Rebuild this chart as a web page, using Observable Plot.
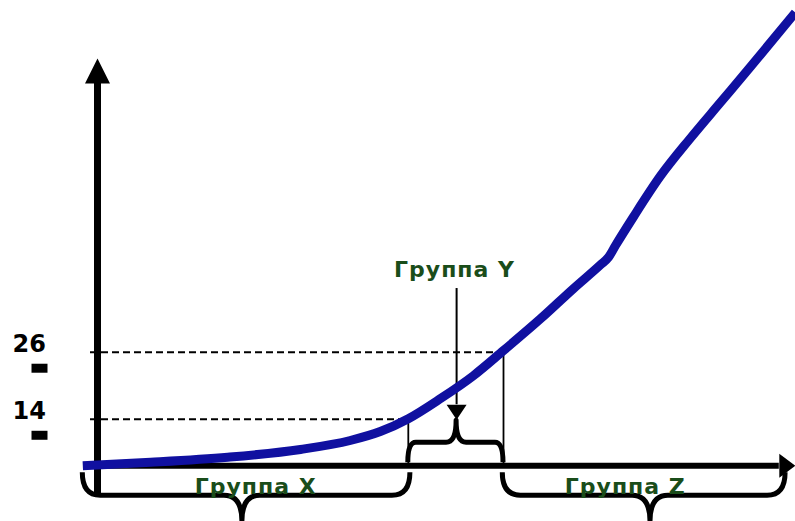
<!DOCTYPE html>
<html><head><meta charset="utf-8">
<script src="https://cdn.jsdelivr.net/npm/d3@7"></script>
<script src="https://cdn.jsdelivr.net/npm/@observablehq/plot@0.6"></script>
<style>html,body{margin:0;padding:0;background:#fff;} #chart svg{display:block}</style>
</head><body><div id="chart"></div>
<script>
// ---- data (abstract units) ----
const curveX = [-2.1, 7.6, 18.6, 29.0, 36.1, 40.4, 44.4, 49.0, 53.7, 58.0, 63.3, 68.0, 71.9, 73.0, 74.0, 76.6, 80.4, 84.7, 89.0, 93.3, 99.7];
const curveY = [5.7, 6.3, 7.2, 8.6, 10.2, 11.8, 14.1, 17.7, 21.8, 26.3, 32.0, 37.4, 41.7, 43.0, 45.1, 50.3, 57.5, 64.3, 70.7, 77.1, 86.8];
const levels = [14, 26];
const levelLabels = ["14", "26"];
const levelEndX = [44.4, 58.0];
const groupNames = ["Группа X", "Группа Y", "Группа Z"];
const groupFrom = [-2.1, 44.4, 57.9];
const groupTo = [44.7, 58.0, 98.3];
const groupMid = [20.7, 51.3, 79.0];
const groupLabelX = [22.6, 51.0, 75.4];
const axisLevel = 5.7;
const yAxisBottom = 0.4, yAxisTop = 74.1, xAxisEnd = 97.4, dashStart = -1.0;
const yLabelLevel = 39.5, yArrowFrom = 37.4, yArrowTo = 16.6;

const BLUE = "#1010a0", GREEN = "#1a4d1a";
const curve = curveX.map((x, i) => ({x, y: curveY[i]}));
const levelRows = levels.map((v, i) => ({v, label: levelLabels[i], end: levelEndX[i]}));
const groups = groupNames.map((name, i) => ({name, from: groupFrom[i], to: groupTo[i], mid: groupMid[i], lx: groupLabelX[i]}));

const upHead = {draw(c) { c.moveTo(-12.5, 0); c.lineTo(0, -25); c.lineTo(12.5, 0); c.closePath(); }};
const rightHead = {draw(c) { c.moveTo(0, -12); c.lineTo(16, 0); c.lineTo(0, 12); c.closePath(); }};
const downHead = {draw(c) { c.moveTo(-10, 0); c.lineTo(0, 15); c.lineTo(10, 0); c.closePath(); }};
const barSym = {draw(c) { c.rect(-8, -4.5, 16, 9); }};

function braces(index, scales) {
  const g = d3.create("svg:g").attr("fill", "none").attr("stroke", "black")
    .attr("stroke-width", 5).attr("stroke-linejoin", "round");
  const y0 = scales.y(axisLevel);
  groups.forEach((d, i) => {
    const below = i !== 1;
    const yEnd = y0 + (below ? 7 : -3);
    const yBar = y0 + (below ? 30 : -23);
    const yTip = y0 + (below ? 56 : -45);
    const rE = below ? 18 : 8, rM = below ? 18 : 10;
    const x1 = scales.x(d.from), x2 = scales.x(d.to), xm = scales.x(d.mid);
    g.append("path").attr("d",
      `M${x1},${yEnd} Q${x1},${yBar} ${x1 + rE},${yBar} L${xm - rM},${yBar} Q${xm},${yBar} ${xm},${yTip} ` +
      `Q${xm},${yBar} ${xm + rM},${yBar} L${x2 - rE},${yBar} Q${x2},${yBar} ${x2},${yEnd}`);
  });
  return g.node();
}

const chart = Plot.plot({
  width: 795, height: 521,
  marginLeft: 97, marginRight: 5, marginTop: 50, marginBottom: 24,
  x: {domain: [0, 99], axis: null},
  y: {domain: [0, 80], axis: null},
  style: {fontFamily: "DejaVu Sans", background: "white"},
  marks: [
    Plot.ruleY(levelRows, {y: "v", x1: dashStart, x2: "end", stroke: "black", strokeWidth: 2, strokeDasharray: "7,4"}),
    Plot.ruleX(levelRows, {x: "end", y1: axisLevel, y2: "v", stroke: "black", strokeWidth: 1.8}),
    Plot.ruleX([0], {y1: yAxisBottom, y2: yAxisTop, stroke: "black", strokeWidth: 7}),
    Plot.ruleY([axisLevel], {x1: 0, x2: xAxisEnd, stroke: "black", strokeWidth: 6}),
    Plot.dot([0], {x: 0, y: yAxisTop, symbol: upHead, fill: "black", stroke: "none"}),
    Plot.dot([0], {x: xAxisEnd, y: axisLevel, symbol: rightHead, fill: "black", stroke: "none"}),
    braces,
    Plot.ruleX([groupMid[1]], {y1: yArrowFrom, y2: yArrowTo, stroke: "black", strokeWidth: 2}),
    Plot.dot([0], {x: groupMid[1], y: yArrowTo, symbol: downHead, fill: "black", stroke: "none"}),
    Plot.text(levelRows, {x: 0, y: "v", text: "label", dx: -85, textAnchor: "start", lineAnchor: "bottom", fontSize: 24, fontWeight: "bold", fill: "black"}),
    Plot.dot(levelRows, {x: 0, y: "v", dx: -58, dy: 16, symbol: barSym, fill: "black", stroke: "none"}),
    Plot.text(groups.filter((d, i) => i !== 1), {x: "lx", y: axisLevel, text: "name", dy: 28, lineAnchor: "bottom", fontSize: 22, fontWeight: "bold", fill: GREEN}),
    Plot.text([groups[1]], {x: "lx", y: yLabelLevel, text: "name", lineAnchor: "bottom", fontSize: 22, fontWeight: "bold", fill: GREEN}),
    Plot.line(curve, {x: "x", y: "y", stroke: BLUE, strokeWidth: 9, curve: "monotone-x", strokeLinecap: "butt"})
  ]
});
chart.querySelectorAll("text").forEach(t => { if (t.textContent.startsWith("Группа")) t.style.letterSpacing = "1px"; });
document.getElementById("chart").appendChild(chart);
</script>
</body></html>
